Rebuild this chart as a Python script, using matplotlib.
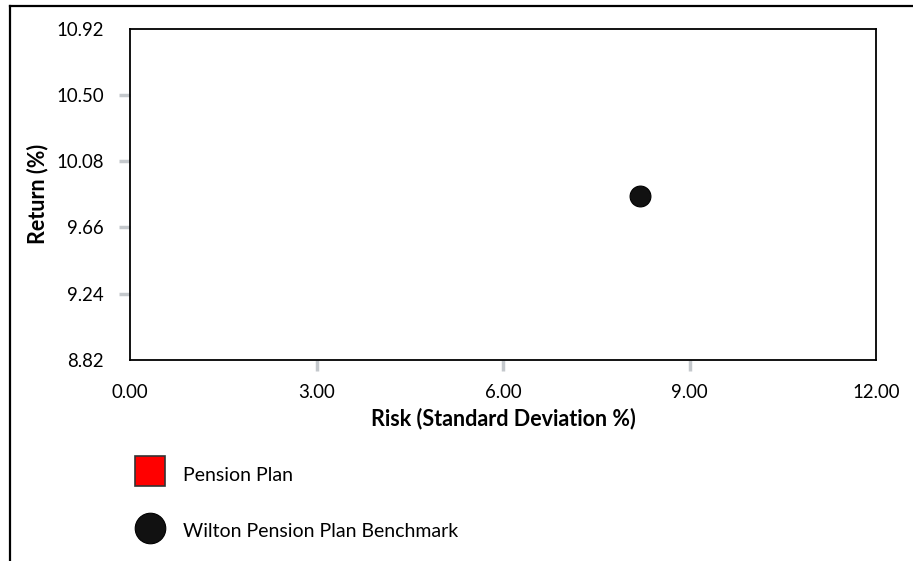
import matplotlib.pyplot as plt
from matplotlib.lines import Line2D

plt.rcParams["font.family"] = ["Lato", "DejaVu Sans"]

# risk / return points
PLAN_RISK = []
PLAN_RETURN = []
BENCH_RISK = [8.20]
BENCH_RETURN = [9.86]

X_TICKS = [0.00, 3.00, 6.00, 9.00, 12.00]
Y_TICKS = [8.82, 9.24, 9.66, 10.08, 10.50, 10.92]
SERIES_NAMES = ["Pension Plan", "Wilton Pension Plan Benchmark"]

W, H = 913, 561
fig = plt.figure(figsize=(W / 100, H / 100), dpi=100)
ax = fig.add_axes([130 / W, 1 - 360 / H, 746 / W, 331.3 / H])

ax.scatter(PLAN_RISK, PLAN_RETURN, marker="s", s=22 ** 2, color="#ff0000",
           edgecolor="#333333", linewidth=1.2, zorder=3, clip_on=False)
ax.scatter(BENCH_RISK, BENCH_RETURN, marker="o", s=15 ** 2, color="#111111",
           edgecolor="#000000", linewidth=0.8, zorder=3)

ax.set_xlim(X_TICKS[0], X_TICKS[-1])
ax.set_ylim(Y_TICKS[0], Y_TICKS[-1])
ax.set_xticks(X_TICKS)
ax.set_yticks(Y_TICKS)
ax.set_xticklabels([f"{v:.2f}" for v in X_TICKS], fontsize=13.4)
ax.set_yticklabels([f"{v:.2f}" for v in Y_TICKS], fontsize=13.4)
ax.tick_params(axis="x", length=8, width=2.5, color="#c4c8cc", pad=9)
ax.tick_params(axis="y", length=8, width=2.5, color="#c4c8cc", pad=11)

# hide the tick marks sitting on the frame corners
for tick in ax.xaxis.get_major_ticks()[::len(X_TICKS) - 1]:
    tick.tick1line.set_visible(False)
for tick in ax.yaxis.get_major_ticks()[::len(Y_TICKS) - 1]:
    tick.tick1line.set_visible(False)

for spine in ax.spines.values():
    spine.set_linewidth(1.3)
    spine.set_color("#000000")

ax.set_xlabel("Risk (Standard Deviation %)", fontsize=15.5, fontweight="bold")
ax.set_ylabel("Return (%)", fontsize=15.5, fontweight="bold")
ax.xaxis.set_label_coords(503 / W, 1 - 408 / H, transform=fig.transFigure)
ax.yaxis.set_label_coords(48 / W, 1 - 194 / H, transform=fig.transFigure)

handles = [
    Line2D([], [], linestyle="none", marker="s", markersize=21.5, markerfacecolor="#ff0000",
           markeredgecolor="#333333", markeredgewidth=1.2),
    Line2D([], [], linestyle="none", marker="o", markersize=22, markerfacecolor="#111111",
           markeredgecolor="#000000", markeredgewidth=0.8),
]
fig.legend(handles, SERIES_NAMES, loc="upper left", bbox_to_anchor=(120 / W, 1 - 446 / H),
           frameon=False, fontsize=14, handlelength=1.45, handleheight=1.65,
           labelspacing=1.6, handletextpad=1.0, borderpad=0.3)

# outer frame: top and left edges only
fig.add_artist(Line2D([10 / W, 1], [1 - 6 / H, 1 - 6 / H], color="#000000", linewidth=1.6))
fig.add_artist(Line2D([10 / W, 10 / W], [0, 1 - 6 / H], color="#000000", linewidth=1.6))

fig.savefig("out.png", dpi=100)
